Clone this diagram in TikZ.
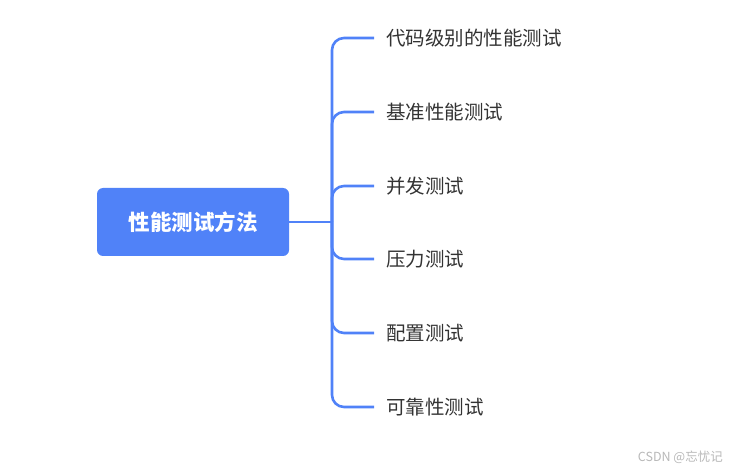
\documentclass[tikz,border=0pt]{standalone}
\usepackage{fontspec}
\setmainfont{Noto Sans CJK SC}
\definecolor{mblue}{HTML}{5082F8}
\definecolor{mtext}{HTML}{333333}
\definecolor{wmark}{HTML}{B8B8B8}
\begin{document}
\begin{tikzpicture}[x=1pt,y=-1pt,
  rootbox/.style={fill=mblue,rounded corners=6pt,minimum width=192pt,minimum height=68pt,text=white,font=\fontsize{21.5}{25}\selectfont\bfseries,inner sep=0pt},
  leaf/.style={anchor=west,inner xsep=12pt,inner ysep=0pt,text=mtext,font=\fontsize{19.5}{23}\selectfont},
  link/.style={draw=mblue,line width=2.6pt,rounded corners=12pt}]
\useasboundingbox (0,0) rectangle (733,470);
\node[rootbox] (root) at (193,222) {性能测试方法};
\coordinate (j) at (332,222);
\node[leaf] (c1) at (374,38) {代码级别的性能测试};
\node[leaf] (c2) at (374,112) {基准性能测试};
\node[leaf] (c3) at (374,186) {并发测试};
\node[leaf] (c4) at (374,259) {压力测试};
\node[leaf] (c5) at (374,333) {配置测试};
\node[leaf] (c6) at (374,407) {可靠性测试};
\draw[link,line width=2.2pt] (root.east) -- (j);
\foreach \c in {c1,c2,c3,c4,c5,c6} \draw[link] (j) |- (\c.west);
\node[anchor=east,text=wmark,font=\fontsize{12.5}{14}\selectfont,inner sep=0pt] (wm) at (723,457) {CSDN @忘忧记};
\end{tikzpicture}
\end{document}
